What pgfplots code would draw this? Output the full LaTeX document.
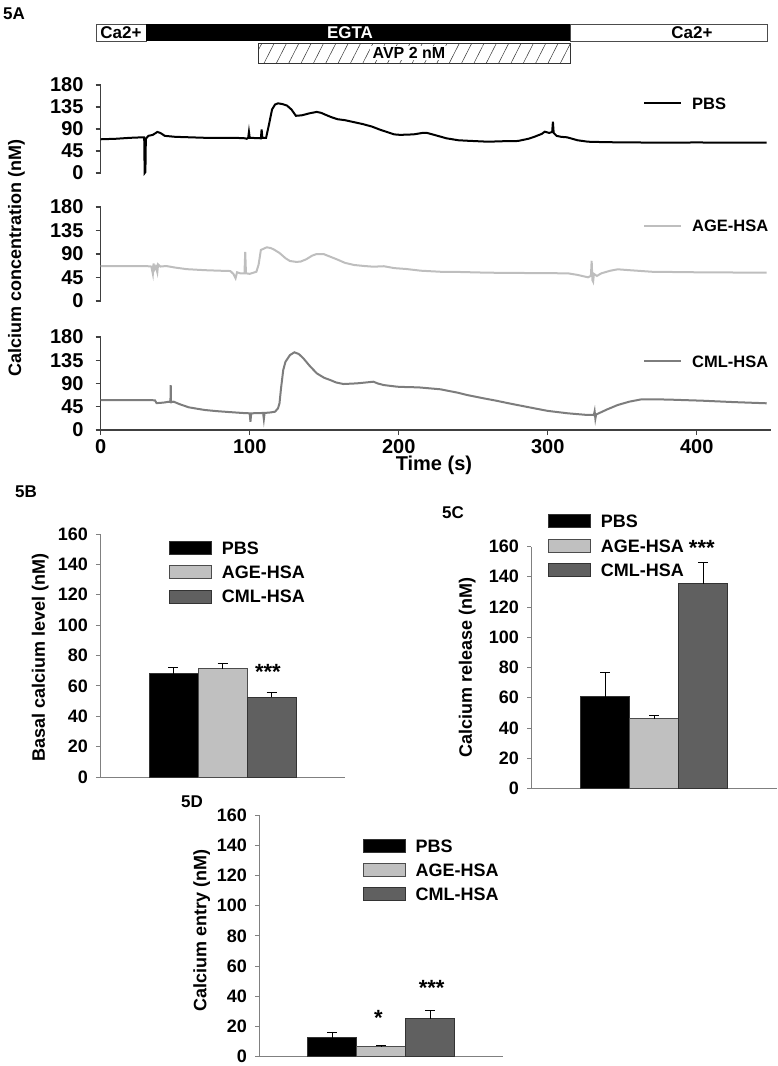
\documentclass[border=0pt]{standalone}
\usepackage{pgfplots}
\pgfplotsset{compat=1.18}
\usepackage{fontspec}
\setmainfont{Liberation Sans}
\usetikzlibrary{patterns.meta}
\definecolor{agec}{RGB}{190,190,190}
\definecolor{cmlc}{RGB}{125,125,125}
\definecolor{agebar}{RGB}{192,192,192}
\definecolor{cmlbar}{RGB}{96,96,96}
\newcommand{\lab}{\bfseries\fontsize{18}{21}\selectfont}
\newcommand{\legA}{\bfseries\fontsize{16.5}{19}\selectfont}
\newcommand{\tickA}{\bfseries\fontsize{20}{23}\selectfont}
\newcommand{\panel}{\bfseries\fontsize{17}{20}\selectfont}
\newcommand{\starfont}{\bfseries\fontsize{22}{24}\selectfont}

\pgfplotsset{
  tracebase/.style={
    scale only axis, anchor=south west,
    xmin=0, xmax=450, ymin=0, ymax=180,
    width=670.5pt,
    ytick={0,45,90,135,180},
    tick align=outside, major tick length=5pt,
    axis line style={black!75, line width=1.2pt},
    tick style={black!75, line width=1.2pt},
    tick label style={font=\tickA},
    yticklabel style={inner xsep=0pt, xshift=-12pt},
    xticklabel style={inner ysep=0pt, yshift=-4pt},
    /pgf/number format/assume math mode=true,
    clip=false,
    legend style={draw=none, fill=none, inner sep=0pt, anchor=north west,
       nodes={inner sep=0pt, text height=12pt, text depth=0pt, font=\legA, anchor=base west}, column sep=10pt},
    legend image code/.code={\draw[#1] (0pt,5.85pt) -- (37pt,5.85pt);},
  },
  barbase/.style={
    scale only axis, anchor=south west,
    ybar=0pt, bar width=49pt,
    xmin=-1, xmax=1, ymin=0, ymax=160, xtick=\empty,
    ytick={0,20,...,160},
    axis x line*=bottom, axis y line*=left,
    axis line style={black!50, line width=1pt},
    tick align=outside, major tick length=4pt, tick style={black!50, line width=0.8pt},
    tick label style={font=\lab},
    yticklabel style={inner xsep=0pt, xshift=-8pt},
    /pgf/number format/assume math mode=true,
    every axis y label/.style={rotate=90, anchor=base, font=\lab},
    legend style={draw=none, fill=none, inner sep=0pt, anchor=north west,
       nodes={inner sep=0pt, text height=13pt, text depth=0pt, font=\lab, anchor=base west}, column sep=10pt, row sep=10.5pt},
    every axis plot post/.append style={legend image code/.code={\draw[##1] (0pt,-0.1pt) rectangle (42pt,12.9pt);}},
    error bars/y dir=plus, error bars/y explicit,
    error bars/error mark=-,
    error bars/error bar style={black, line width=0.8pt},
    error bars/error mark options={black, line width=0.8pt, mark size=5pt, rotate=90},
  },
}

\begin{document}
\begin{tikzpicture}
\useasboundingbox (0pt,0pt) rectangle (778pt,-1066pt);

% panel labels
\node[anchor=base west, inner sep=0pt, font=\panel] at (3pt,-19pt) {5A};
\node[anchor=base west, inner sep=0pt, font=\panel] at (15pt,-497pt) {5B};
\node[anchor=base west, inner sep=0pt, font=\panel] at (442pt,-518pt) {5C};
\node[anchor=base west, inner sep=0pt, font=\panel] at (181pt,-807pt) {5D};

% protocol bar
\draw[black!70, line width=0.8pt] (96pt,-24pt) rectangle (146pt,-41pt);
\fill[black] (146pt,-24pt) rectangle (570pt,-41pt);
\draw[black!70, line width=0.8pt] (570pt,-24pt) rectangle (767pt,-41pt);
\draw[black!80, line width=0.8pt, pattern={Lines[angle=63,distance=11pt,line width=0.5pt]}, pattern color=black!80] (258pt,-43pt) rectangle (570pt,-63pt);
\node[font=\bfseries\fontsize{17}{19}\selectfont, inner sep=0pt] at (121pt,-32.5pt) {Ca2+};
\node[font=\bfseries\fontsize{17}{19}\selectfont, inner sep=0pt, text=white] at (350pt,-32.5pt) {EGTA};
\node[font=\bfseries\fontsize{17}{19}\selectfont, inner sep=0pt] at (692pt,-32.5pt) {Ca2+};
\node[font=\bfseries\fontsize{16}{18}\selectfont, fill=white, inner xsep=3pt, inner ysep=1.5pt] at (409pt,-53pt) {AVP 2 nM};

% common y label
\node[rotate=90, anchor=base, font=\lab, inner sep=0pt] at (21pt,-258pt) {Calcium concentration (nM)};

% A1 PBS
\begin{axis}[tracebase, at={(100.7pt,-173pt)}, height=88pt,
  axis y line*=left, axis x line=none,
  legend style={at={(axis description cs:0.8088,0.865)}}]
\addplot[black, line width=2pt] coordinates {
(0,69) (10,70) (20,72) (28,73) (29.2,73) (29.5,0) (30,2) (30.3,70) (32,76) (35,78)
(38,84) (40,82) (43,76) (50,74) (60,73) (70,72) (80,72) (90,72) (97,71) (98,70)
(99,72) (99.5,84) (100,72) (107.5,71) (108,89) (108.5,72) (111,72) (113,100) (115,130)
(117,140) (119,142.5) (122,141) (125,138) (128,130) (131,117) (135,118) (140,122)
(145,125) (148,123) (151,119) (155,114) (159,110) (164,108) (170,104) (176,100)
(182,95) (188,88) (192,84) (197,79) (201,78) (210,79) (216,82) (219,82) (225,77)
(232,71) (240,67) (246,66) (260,64) (270,65) (280,65.5) (287,70) (291,74) (296,80)
(298,84.5) (301,82) (303,84) (303.5,105) (304,82) (306,76) (309,74) (313,73) (320,67)
(327,64) (340,63) (358,62.5) (380,62) (400,62.5) (420,62) (447,62)
};
\addlegendentry{PBS}
\end{axis}

% A2 AGE-HSA
\begin{axis}[tracebase, at={(100.7pt,-301pt)}, height=94pt,
  axis y line*=left, axis x line=none,
  legend style={at={(axis description cs:0.8088,0.8665)}}]
\addplot[agec, line width=2pt] coordinates {
(0,67) (10,67) (20,67) (30,67) (34,66) (35,52) (35.5,72) (36,60) (37,66) (38,55)
(38.5,70) (40,66) (44,67) (50,64) (57.7,61) (70,59) (80,58) (87,57.4) (89,52)
(90.5,43.5) (91.5,55) (93.6,53) (96.5,53) (97,94) (97.5,53) (100,52) (104.5,56)
(106,70) (107.5,97.7) (111.4,102.8) (114,101.5) (116,99) (120,92) (124,82) (127,76.6)
(131,75) (134,75.3) (138,80) (142,87) (145,90) (149.5,90) (153,86) (158.5,79.8)
(164,73) (170,69) (177,67) (183,65.7) (190,66.6) (197,63) (205,61.3) (215,58)
(228,56) (235,56) (260,54.2) (290,53.5) (313.6,53) (320,50) (327,45.4) (329,48)
(329.5,77) (330,40) (330.5,37) (331,52) (333,48) (336,53) (342,58) (347,60.7)
(355,59) (370,56) (400,55) (447,54.2)
};
\addlegendentry{AGE-HSA}
\end{axis}

% A3 CML-HSA
\begin{axis}[tracebase, at={(100.7pt,-430pt)}, height=93pt,
  axis y line*=left, axis x line*=bottom,
  xtick={0,100,200,300,400},
  xlabel={Time (s)},
  every axis x label/.style={at={(axis description cs:0.497,0)}, anchor=base, yshift=-40pt, font=\tickA},
  legend style={at={(axis description cs:0.8088,0.808)}}]
\addplot[cmlc, line width=2pt] coordinates {
(0,58) (10,58) (20,58) (30,58) (36.4,57.5) (37.5,52) (42,53) (46,54.8) (46.8,54)
(47,87) (47.2,54) (49,54.8) (53,50) (59,44) (65,41) (70,38.7) (78,36.5) (86,34.8)
(95,33) (100,32.3) (100.5,16) (101,32.3) (109,33) (109.5,21) (110,33) (114,34)
(117,35.4) (119,42) (120,51.7) (121,80) (122.5,116) (124,132) (127,145) (130,150.4)
(133,147) (136,138.8) (140,125) (145,109.7) (150,101) (154,96.8) (158,92) (163,89)
(172,90.3) (178,92) (183,93.5) (186,90) (190,87) (199,83.8) (206,83) (213,82.6)
(228,78.8) (240,72) (246,67.7) (257,61.3) (265,57) (275,51) (291,42) (300,37)
(313.6,32.3) (325,29.5) (331,29) (331.5,36) (332,22) (332.5,30) (340,40) (347,48.4)
(355,55) (363,59.4) (380,59) (404,56.7) (425,54) (447,51.7)
};
\addlegendentry{CML-HSA}
\end{axis}

% 5B
\begin{axis}[barbase, at={(100pt,-777pt)}, width=245pt, height=243pt,
  ylabel={Basal calcium level (nM)},
  every axis y label/.append style={at={(axis description cs:-0.225,0.49)}},
  legend style={at={(axis description cs:0.2816,0.972)}}]
\addplot[fill=black, draw=black!80, line width=0.8pt] coordinates {(0,68) +- (0,4)};
\addplot[fill=agebar, draw=black!70, line width=0.8pt] coordinates {(0,71.2) +- (0,3.3)};
\addplot[fill=cmlbar, draw=black!80, line width=0.8pt] coordinates {(0,52.4) +- (0,3)};
\addlegendentry{PBS}
\addlegendentry{AGE-HSA}
\addlegendentry{CML-HSA}
\node[anchor=base, font=\starfont, inner sep=0pt] at (axis cs:0.371,64.4) {***};
\end{axis}

% 5C
\begin{axis}[barbase, at={(531pt,-788.5pt)}, width=246pt, height=242pt,
  ylabel={Calcium release (nM)},
  every axis y label/.append style={at={(axis description cs:-0.24,0.5)}},
  legend style={at={(axis description cs:0.069,1.1335)}}]
\addplot[fill=black, draw=black!80, line width=0.8pt] coordinates {(0,60.7) +- (0,15.8)};
\addplot[fill=agebar, draw=black!70, line width=0.8pt] coordinates {(0,46.2) +- (0,2.2)};
\addplot[fill=cmlbar, draw=black!80, line width=0.8pt] coordinates {(0,135.5) +- (0,14)};
\addlegendentry{PBS}
\addlegendentry{AGE-HSA {\starfont\raisebox{-3pt}{***}}}
\addlegendentry{CML-HSA}
\end{axis}

% 5D
\begin{axis}[barbase, at={(259pt,-1056.7pt)}, width=244.3pt, height=241.7pt,
  ylabel={Calcium entry (nM)},
  every axis y label/.append style={at={(axis description cs:-0.215,0.521)}},
  legend style={at={(axis description cs:0.4245,0.9028)}}]
\addplot[fill=black, draw=black!80, line width=0.8pt] coordinates {(0,12.6) +- (0,3.8)};
\addplot[fill=agebar, draw=black!70, line width=0.8pt] coordinates {(0,6.6) +- (0,1.1)};
\addplot[fill=cmlbar, draw=black!80, line width=0.8pt] coordinates {(0,25.2) +- (0,5.3)};
\addlegendentry{PBS}
\addlegendentry{AGE-HSA}
\addlegendentry{CML-HSA}
\node[anchor=base, font=\starfont, inner sep=0pt] at (axis cs:-0.023,20.5) {*};
\node[anchor=base, font=\starfont, inner sep=0pt] at (axis cs:0.414,40.7) {***};
\end{axis}
\end{tikzpicture}
\end{document}
